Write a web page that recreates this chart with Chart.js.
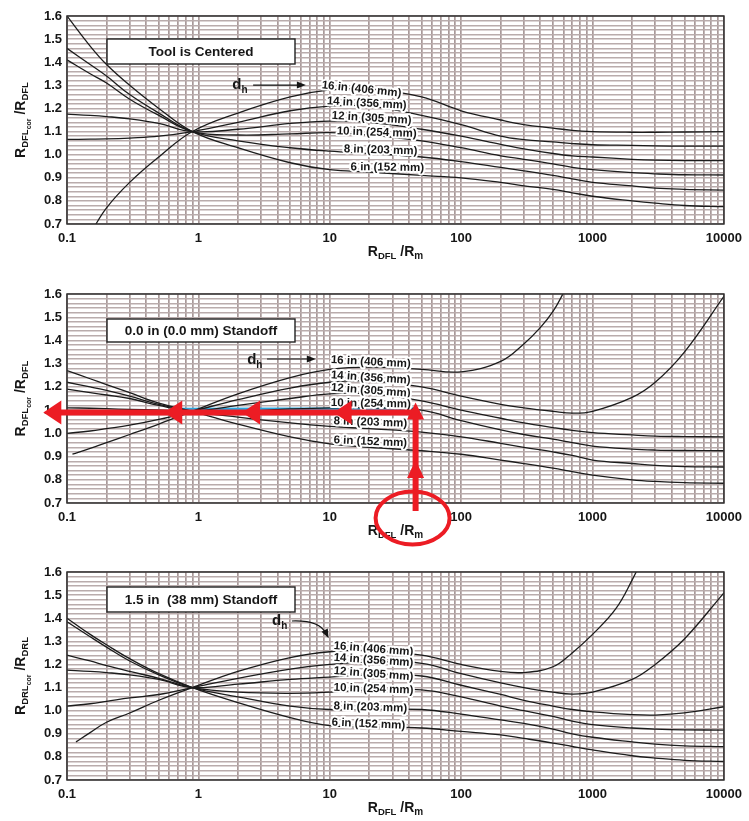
<!DOCTYPE html>
<html>
<head>
<meta charset="utf-8">
<title>RDFL correction charts</title>
<script src="https://cdn.jsdelivr.net/npm/chart.js@4.4.1/dist/chart.umd.min.js"></script>
<style>
  html, body { margin: 0; padding: 0; background: #ffffff; }
  body { position: relative; width: 749px; height: 821px; overflow: hidden; }
  canvas { position: absolute; left: 0; }
</style>
</head>
<body>
<canvas id="panelCentered" width="749" height="275" style="top:0px"></canvas>
<canvas id="panelStandoff0" width="749" height="276" style="top:278px"></canvas>
<canvas id="panelStandoff15" width="749" height="265" style="top:556px"></canvas>
<script>
// ---- axis ticks ----
const xTickValues = [0.1, 1, 10, 100, 1000, 10000];
const xTickLabels = ['0.1', '1', '10', '100', '1000', '10000'];
const yTickLabels = ['0.7', '0.8', '0.9', '1.0', '1.1', '1.2', '1.3', '1.4', '1.5', '1.6'];

// ---- hole diameters (one curve each) ----
const seriesNames = ['6 in (152 mm)', '8 in (203 mm)', '10 in (254 mm)', '12 in (305 mm)', '14 in (356 mm)', '16 in (406 mm)'];

// ---- Tool is centered ----
const centeredX  = [0.1, 0.15, 0.2, 0.3, 0.5, 0.9, 2, 5, 10, 20, 50, 100, 200, 300, 500, 700, 1000, 2000, 3000, 5000, 10000];
const centered6  = [1.60, 1.47, 1.39, 1.30, 1.20, 1.10, 1.03, 0.965, 0.935, 0.925, 0.91, 0.90, 0.88, 0.865, 0.85, 0.835, 0.82, 0.80, 0.79, 0.78, 0.775];
const centered8  = [1.46, 1.39, 1.34, 1.26, 1.18, 1.10, 1.06, 1.03, 1.015, 1.005, 0.99, 0.97, 0.945, 0.93, 0.91, 0.895, 0.88, 0.865, 0.855, 0.85, 0.847];
const centered10 = [1.41, 1.35, 1.31, 1.24, 1.17, 1.10, 1.085, 1.09, 1.095, 1.085, 1.06, 1.03, 0.995, 0.98, 0.96, 0.945, 0.935, 0.922, 0.917, 0.913, 0.912];
const centered12 = [1.175, 1.17, 1.165, 1.155, 1.135, 1.10, 1.11, 1.135, 1.145, 1.14, 1.11, 1.08, 1.045, 1.025, 1.005, 0.995, 0.99, 0.98, 0.976, 0.974, 0.974];
const centered14 = [1.066, 1.067, 1.068, 1.072, 1.08, 1.10, 1.14, 1.19, 1.21, 1.21, 1.17, 1.13, 1.08, 1.065, 1.055, 1.048, 1.043, 1.04, 1.038, 1.037, 1.037];
const centered16 = [0.52, 0.66, 0.77, 0.88, 0.99, 1.10, 1.18, 1.25, 1.28, 1.285, 1.25, 1.19, 1.15, 1.13, 1.115, 1.105, 1.10, 1.097, 1.097, 1.098, 1.10];

// ---- 0.0 in (0.0 mm) standoff ----
const standoff0X  = [0.1, 0.11, 0.15, 0.2, 0.3, 0.5, 0.9, 2, 5, 10, 20, 50, 100, 200, 300, 400, 500, 600, 700, 1000, 2000, 3000, 5000, 10000];
const standoff0_6  = [1.27, null, 1.235, 1.21, 1.175, 1.13, 1.095, 1.04, 0.985, 0.955, 0.94, 0.925, 0.91, 0.885, 0.87, null, 0.85, null, 0.835, 0.82, 0.80, 0.793, 0.788, 0.785];
const standoff0_8  = [1.22, null, 1.20, 1.185, 1.16, 1.125, 1.095, 1.07, 1.045, 1.03, 1.02, 1.005, 0.985, 0.957, 0.94, null, 0.92, null, 0.905, 0.885, 0.87, 0.862, 0.857, 0.855];
const standoff0_10 = [1.19, null, 1.175, 1.165, 1.15, 1.12, 1.095, 1.095, 1.105, 1.11, 1.11, 1.10, 1.055, 1.015, 0.995, null, 0.975, null, 0.96, 0.945, 0.932, 0.928, 0.926, 0.925];
const standoff0_12 = [1.11, null, 1.108, 1.106, 1.103, 1.10, 1.095, 1.12, 1.15, 1.17, 1.17, 1.14, 1.10, 1.065, 1.045, null, 1.025, null, 1.013, 1.003, 0.993, 0.988, 0.986, 0.985];
const standoff0_14 = [1.00, null, 1.01, 1.02, 1.035, 1.06, 1.095, 1.145, 1.195, 1.22, 1.225, 1.20, 1.16, 1.125, 1.11, null, 1.095, null, 1.087, 1.095, 1.155, 1.22, 1.35, 1.59];
const standoff0_16 = [null, 0.91, 0.935, 0.96, 0.995, 1.04, 1.095, 1.17, 1.24, 1.275, 1.285, 1.275, 1.265, 1.31, 1.385, 1.455, 1.525, 1.605, 1.69, null, null, null, null, null];

// worked example traced on the 0.0 in chart
const traceX = [0.63, 45];
const traceY = [1.105, 1.107];
const exampleRatio = 45;      // R_DFL / R_m entered
const exampleResult = 1.09;

// ---- 1.5 in (38 mm) standoff ----
const standoff15X  = [0.1, 0.117, 0.15, 0.2, 0.3, 0.5, 0.9, 2, 5, 10, 20, 50, 100, 200, 300, 500, 700, 1000, 1500, 2000, 2500, 3000, 5000, 10000];
const standoff15_6  = [1.40, null, 1.33, 1.285, 1.225, 1.16, 1.10, 1.035, 0.97, 0.935, 0.93, 0.925, 0.91, 0.895, 0.88, 0.86, 0.845, 0.83, null, 0.805, null, 0.795, 0.785, 0.78];
const standoff15_8  = [1.385, null, 1.32, 1.275, 1.215, 1.155, 1.10, 1.06, 1.02, 1.005, 1.005, 1.005, 0.985, 0.96, 0.945, 0.92, 0.90, 0.885, null, 0.865, null, 0.855, 0.848, 0.844];
const standoff15_10 = [1.24, null, 1.215, 1.195, 1.17, 1.14, 1.10, 1.08, 1.075, 1.08, 1.09, 1.09, 1.06, 1.02, 1.0, 0.975, 0.955, 0.94, null, 0.925, null, 0.92, 0.917, 0.916];
const standoff15_12 = [1.175, null, 1.17, 1.165, 1.155, 1.135, 1.10, 1.115, 1.135, 1.145, 1.155, 1.15, 1.11, 1.07, 1.045, 1.02, 1.005, 0.995, null, 0.983, null, 0.981, 0.99, 1.017];
const standoff15_14 = [1.02, null, 1.03, 1.04, 1.055, 1.07, 1.10, 1.14, 1.18, 1.20, 1.21, 1.205, 1.16, 1.12, 1.10, 1.08, 1.072, 1.08, null, 1.135, null, 1.20, 1.31, 1.51];
const standoff15_16 = [null, 0.865, 0.905, 0.95, 0.99, 1.045, 1.10, 1.17, 1.23, 1.255, 1.26, 1.24, 1.20, 1.17, 1.165, 1.19, 1.25, 1.33, 1.44, 1.565, 1.68, null, null, null];

// ---- drawing ----
const FONT = '"Liberation Sans", Arial, Helvetica, sans-serif';
const INK = '#161616';
const RED = '#ec1c24';
const BLUE = '#2aa8e0';

function logGrid(min, max) {
  const out = [];
  const e0 = Math.round(Math.log10(min)), e1 = Math.round(Math.log10(max));
  for (let e = e0; e < e1; e++) {
    for (let k = 1; k <= 9; k++) out.push(Number((k * Math.pow(10, e)).toPrecision(6)));
  }
  out.push(max);
  return out;
}
function linGrid(min, max, step) {
  const out = [];
  const n = Math.round((max - min) / step);
  for (let i = 0; i <= n; i++) out.push(Math.round((min + i * step) * 1000) / 1000);
  return out;
}

function drawParts(ctx, parts, x, y) {
  let cx = x;
  parts.forEach(p => {
    ctx.font = 'bold ' + p.size + 'px ' + FONT;
    ctx.fillText(p.t, cx, y + p.dy);
    cx += ctx.measureText(p.t).width;
  });
}
function partsWidth(ctx, parts) {
  let w = 0;
  parts.forEach(p => { ctx.font = 'bold ' + p.size + 'px ' + FONT; w += ctx.measureText(p.t).width; });
  return w;
}
function arrowHead(ctx, tx, ty, dx, dy, len, half) {
  const bx = tx - dx * len, by = ty - dy * len;
  ctx.beginPath();
  ctx.moveTo(tx, ty);
  ctx.lineTo(bx - dy * half, by + dx * half);
  ctx.lineTo(bx + dy * half, by - dx * half);
  ctx.closePath();
  ctx.fill();
}

function makePanel(cfg) {
  const datasets = cfg.series.map((ys, i) => ({
    label: seriesNames[i],
    data: cfg.x.map((x, j) => ({ x: x, y: ys[j] })),
    borderColor: '#1c1c1c',
    borderWidth: 1.3,
    pointRadius: 0,
    fill: false,
    spanGaps: true,
    tension: 0.4
  }));
  if (cfg.trace) {
    datasets.push({
      label: 'trace',
      data: cfg.trace.x.map((x, j) => ({ x: x, y: cfg.trace.y[j] })),
      borderColor: BLUE, borderWidth: 2.5, pointRadius: 0, fill: false
    });
  }

  const decor = {
    id: 'decor',
    afterDatasetsDraw(chart) {
      const ctx = chart.ctx, a = chart.chartArea;
      const xs = chart.scales.x, ys = chart.scales.y;
      ctx.save();
      // plot frame
      ctx.strokeStyle = '#303030';
      ctx.lineWidth = 1.5;
      ctx.strokeRect(a.left, a.top, a.right - a.left, a.bottom - a.top);

      // title box
      const b = cfg.box;
      ctx.fillStyle = '#ffffff';
      ctx.fillRect(a.left + b.dx, a.top + b.dy, b.w, b.h);
      ctx.strokeStyle = '#202020';
      ctx.lineWidth = 1.4;
      ctx.strokeRect(a.left + b.dx, a.top + b.dy, b.w, b.h);
      ctx.fillStyle = INK;
      ctx.font = 'bold 13.5px ' + FONT;
      ctx.textAlign = 'center';
      ctx.textBaseline = 'middle';
      ctx.fillText(b.text, a.left + b.dx + b.w / 2, a.top + b.dy + b.h / 2 + 1);

      // curve labels
      ctx.textAlign = 'left';
      ctx.textBaseline = 'middle';
      ctx.font = 'bold 11.5px ' + FONT;
      cfg.labels.forEach((lb, i) => {
        const px = xs.getPixelForValue(lb[0]), py = ys.getPixelForValue(lb[1]);
        ctx.save();
        ctx.translate(px, py);
        ctx.rotate(lb[2] * Math.PI / 180);
        ctx.lineJoin = 'round';
        ctx.strokeStyle = '#ffffff';
        ctx.lineWidth = 4;
        ctx.strokeText(seriesNames[5 - i], 0, 0);
        ctx.fillStyle = INK;
        ctx.fillText(seriesNames[5 - i], 0, 0);
        ctx.restore();
      });

      // d_h marker
      const d = cfg.dh;
      const dx0 = xs.getPixelForValue(d.at[0]), dy0 = ys.getPixelForValue(d.at[1]);
      ctx.textBaseline = 'alphabetic';
      ctx.fillStyle = INK;
      drawParts(ctx, [{ t: 'd', size: 15, dy: 0 }, { t: 'h', size: 10, dy: 4 }], dx0, dy0);
      ctx.strokeStyle = INK;
      ctx.lineWidth = 1.2;
      const s = [xs.getPixelForValue(d.from[0]), ys.getPixelForValue(d.from[1])];
      const e = [xs.getPixelForValue(d.to[0]), ys.getPixelForValue(d.to[1])];
      if (d.curved) {
        const c = [e[0] - 9, s[1] - 1];
        ctx.beginPath();
        ctx.moveTo(s[0], s[1]);
        ctx.quadraticCurveTo(c[0], c[1], e[0] - 3, e[1] - 5);
        ctx.stroke();
        const L = Math.hypot(e[0] - c[0], e[1] - c[1]);
        arrowHead(ctx, e[0], e[1], (e[0] - c[0]) / L, (e[1] - c[1]) / L, 9, 3.5);
      } else {
        ctx.beginPath();
        ctx.moveTo(s[0], s[1]);
        ctx.lineTo(e[0] - 8, e[1]);
        ctx.stroke();
        arrowHead(ctx, e[0], e[1], 1, 0, 9, 3.5);
      }

      // y axis title (rotated)
      ctx.save();
      ctx.translate(25, (a.top + a.bottom) / 2);
      ctx.rotate(-Math.PI / 2);
      const yParts = [
        { t: 'R', size: 14, dy: 0 }, { t: cfg.sub, size: 9.5, dy: 3 }, { t: 'cor', size: 7, dy: 6 },
        { t: ' /R', size: 14, dy: 0 }, { t: cfg.sub, size: 9.5, dy: 3 }
      ];
      drawParts(ctx, yParts, -partsWidth(ctx, yParts) / 2, 0);
      ctx.restore();

      // x axis title
      const xParts = [
        { t: 'R', size: 14, dy: 0 }, { t: 'DFL', size: 9.5, dy: 3 },
        { t: ' /R', size: 14, dy: 0 }, { t: 'm', size: 10, dy: 3 }
      ];
      drawParts(ctx, xParts, (a.left + a.right) / 2 - partsWidth(ctx, xParts) / 2, a.bottom + 32);
      ctx.restore();
    },
    afterDraw(chart) {
      if (!cfg.guide) return;
      const g = cfg.guide;
      const ctx = chart.ctx, xs = chart.scales.x, ys = chart.scales.y;
      const ax = xs.getPixelForValue(g.x), ay = ys.getPixelForValue(g.y);
      ctx.save();
      ctx.strokeStyle = RED;
      ctx.fillStyle = RED;
      ctx.lineCap = 'butt';
      // upward leg from the entered ratio
      const topTip = ys.getPixelForValue(g.topTip);
      ctx.lineWidth = 6;
      ctx.beginPath();
      ctx.moveTo(ax, ys.bottom + 8);
      ctx.lineTo(ax, topTip + 12);
      ctx.stroke();
      arrowHead(ctx, ax, topTip, 0, -1, 17, 8.5);
      arrowHead(ctx, ax, ys.getPixelForValue(g.midTip), 0, -1, 18, 8.5);
      // leftward leg to the factor axis
      const tips = g.leftTips.map(v => xs.getPixelForValue(v));
      ctx.beginPath();
      ctx.moveTo(ax + 3, ay);
      ctx.lineTo(Math.min(...tips) + 12, ay);
      ctx.stroke();
      tips.forEach(t => arrowHead(ctx, t, ay, -1, 0, 18, 12));
      // ring round the axis title
      ctx.lineWidth = 4;
      ctx.beginPath();
      ctx.ellipse(ax - 3, ys.bottom + 15, 37, 26.5, 0, 0, Math.PI * 2);
      ctx.stroke();
      ctx.restore();
    }
  };

  const canvas = document.getElementById(cfg.canvas);
  return new Chart(canvas, {
    type: 'line',
    data: { datasets: datasets },
    plugins: [decor],
    options: {
      responsive: false,
      animation: false,
      events: [],
      layout: { padding: { top: 16, right: 22, left: 0, bottom: 0 } },
      plugins: { legend: { display: false }, tooltip: { enabled: false }, title: { display: false } },
      scales: {
        x: {
          type: 'logarithmic',
          min: 0.1,
          max: 10000,
          afterBuildTicks: s => { s.ticks = logGrid(0.1, 10000).map(v => ({ value: v })); },
          afterFit: s => { s.height = cfg.axisH; },
          border: { display: false },
          grid: { color: '#a89999', lineWidth: 1.7, drawTicks: false },
          ticks: {
            autoSkip: false, maxRotation: 0, minRotation: 0, padding: 7,
            color: INK, font: { family: FONT, size: 13, weight: 'bold' },
            callback: v => {
              const i = xTickValues.findIndex(t => Math.abs(v - t) / t < 1e-6);
              return i >= 0 ? xTickLabels[i] : '';
            }
          }
        },
        y: {
          min: 0.7,
          max: 1.6,
          afterBuildTicks: s => { s.ticks = linGrid(0.7, 1.6, 0.02).map(v => ({ value: v })); },
          afterFit: s => { s.width = 67; },
          border: { display: false },
          grid: { color: '#b9acac', lineWidth: 1.4, drawTicks: false },
          ticks: {
            autoSkip: false, padding: 5,
            color: INK, font: { family: FONT, size: 13, weight: 'bold' },
            callback: v => {
              const i = Math.round((v - 0.7) * 10);
              return Math.abs(v - (0.7 + i * 0.1)) < 1e-6 ? yTickLabels[i] : '';
            }
          }
        }
      }
    }
  });
}

makePanel({
  canvas: 'panelCentered', axisH: 51, sub: 'DFL',
  x: centeredX,
  series: [centered6, centered8, centered10, centered12, centered14, centered16],
  box: { text: 'Tool is Centered', dx: 40, dy: 23, w: 188, h: 25 },
  labels: [[8.7, 1.301, 6], [9.5, 1.232, 3.3], [10.35, 1.169, 3.6], [11.3, 1.102, 2], [12.8, 1.0245, 1.7], [14.4, 0.9466, 0.7]],
  dh: { at: [1.81, 1.284], from: [2.61, 1.301], to: [6.58, 1.301] }
});

makePanel({
  canvas: 'panelStandoff0', axisH: 51, sub: 'DFL',
  x: standoff0X,
  series: [standoff0_6, standoff0_8, standoff0_10, standoff0_12, standoff0_14, standoff0_16],
  box: { text: '0.0 in (0.0 mm) Standoff', dx: 40, dy: 25, w: 188, h: 23 },
  labels: [[10.2, 1.316, 3], [10.2, 1.251, 4], [10.2, 1.197, 4.4], [10.2, 1.131, 1], [10.7, 1.053, 2], [10.7, 0.971, 2.5]],
  dh: { at: [2.35, 1.299], from: [3.33, 1.320], to: [7.83, 1.320] },
  trace: { x: traceX, y: traceY },
  guide: { x: exampleRatio, y: exampleResult, topTip: 1.133, midTip: 0.885, leftTips: [0.066, 0.55, 2.15, 10.7] }
});

makePanel({
  canvas: 'panelStandoff15', axisH: 41, sub: 'DRL',
  x: standoff15X,
  series: [standoff15_6, standoff15_8, standoff15_10, standoff15_12, standoff15_14, standoff15_16],
  box: { text: '1.5 in  (38 mm) Standoff', dx: 40, dy: 15, w: 188, h: 25 },
  labels: [[10.7, 1.280, 4.4], [10.7, 1.230, 4], [10.7, 1.172, 4.4], [10.7, 1.100, 2], [10.7, 1.020, 2], [10.35, 0.949, 2.6]],
  dh: { at: [3.64, 1.371], from: [5.15, 1.388], to: [9.8, 1.3135], curved: true }
});
</script>
</body>
</html>
